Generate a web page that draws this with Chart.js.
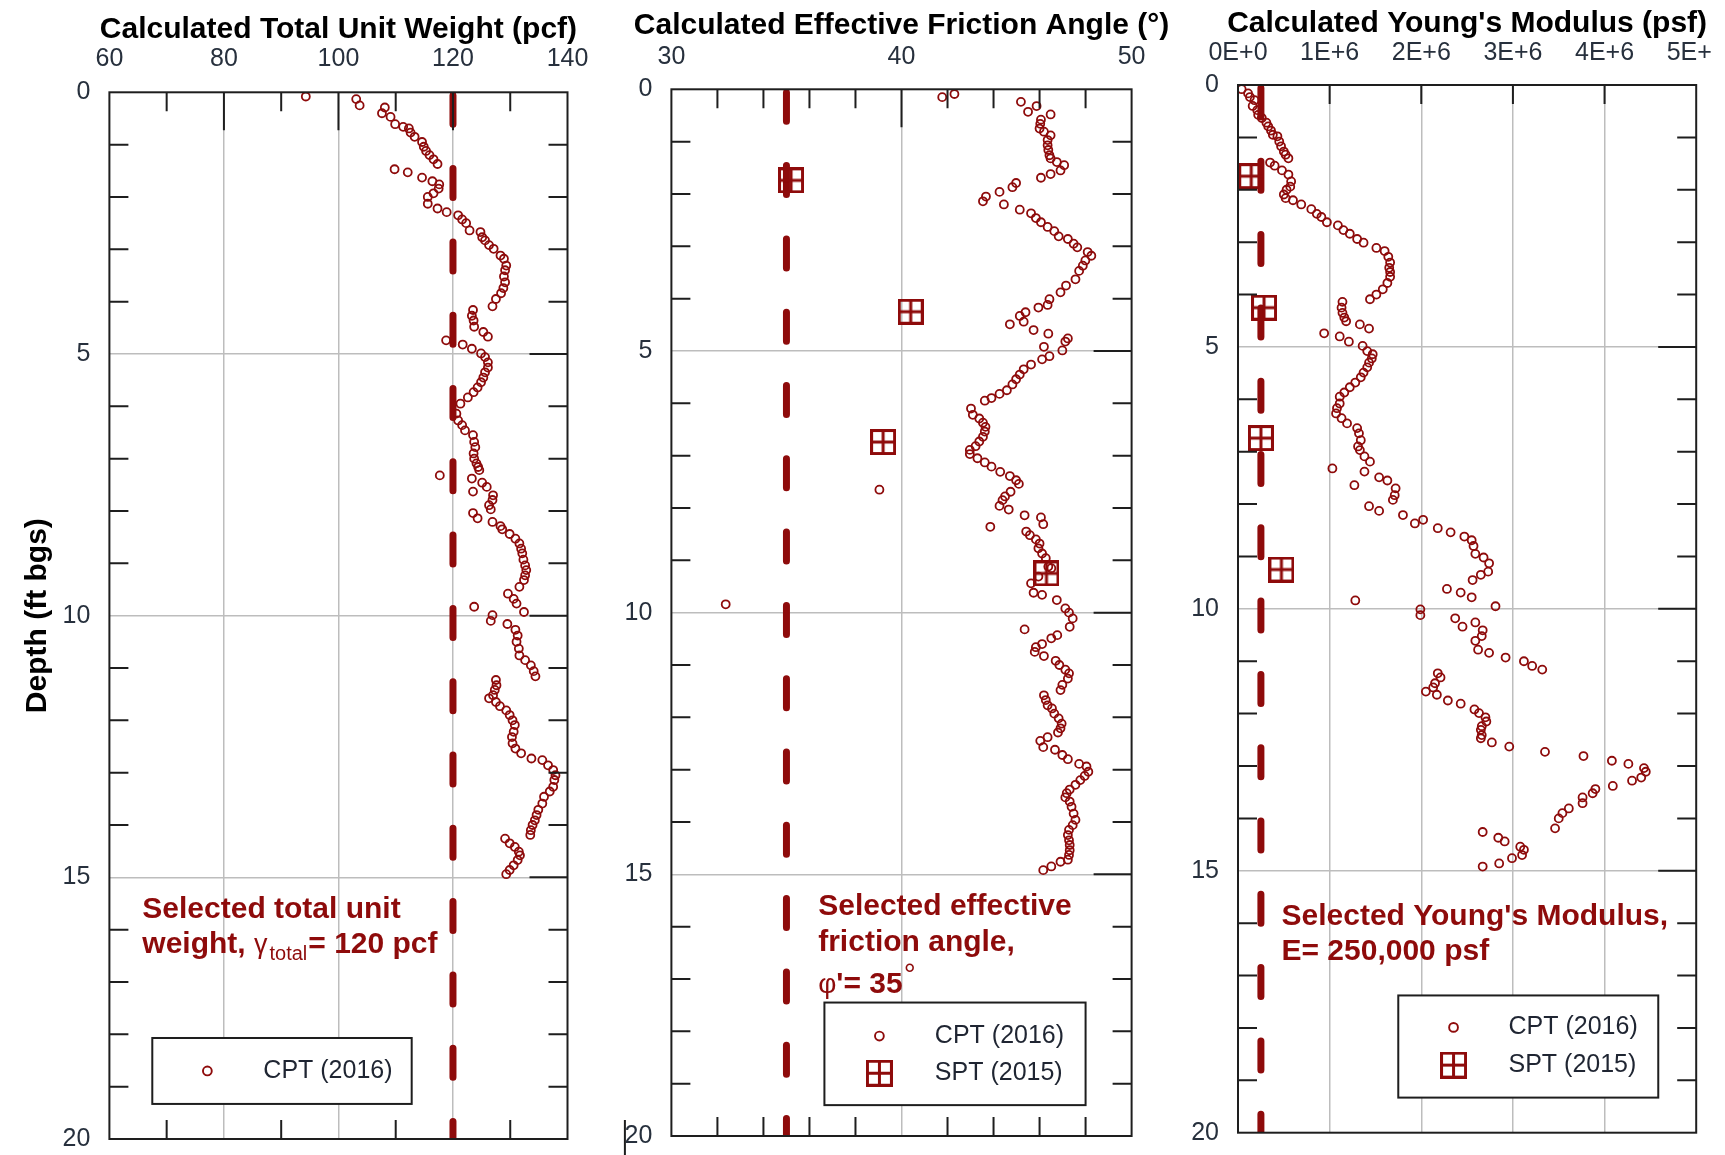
<!DOCTYPE html>
<html>
<head>
<meta charset="utf-8">
<title>CPT / SPT soil parameters</title>
<script src="https://cdn.jsdelivr.net/npm/chart.js@4.4.1/dist/chart.umd.min.js"></script>
<style>
  html, body { margin: 0; padding: 0; background: #fff; }
  #figure { position: relative; width: 1725px; height: 1155px; overflow: hidden; background: #fff; }
  .panel { position: absolute; top: 0; height: 1155px; }
  .panel canvas { display: block; }
</style>
</head>
<body>
<div id="figure">
  <div class="panel" style="left:0;width:600px"><canvas id="unitWeightChart" width="600" height="1155"></canvas></div>
  <div class="panel" style="left:600px;width:600px"><canvas id="frictionChart" width="600" height="1155"></canvas></div>
  <div class="panel" style="left:1180px;width:533px;overflow:hidden"><canvas id="modulusChart" width="580" height="1155"></canvas></div>
</div>
<script>
// --- Data (depth in ft below ground surface) ---

// CPT (2016) calculated total unit weight, pcf
const unitWeightDepth = [0.08, 0.13, 0.25, 0.29, 0.40, 0.47, 0.61, 0.66, 0.69, 0.77,
  0.85, 0.95, 1.04, 1.12, 1.20, 1.28, 1.37, 1.47, 1.53, 1.63,
  1.70, 1.76, 1.84, 1.93, 2.00, 2.13, 2.22, 2.29, 2.35, 2.43,
  2.50, 2.64, 2.67, 2.77, 2.83, 2.92, 2.99, 3.12, 3.18, 3.31,
  3.40, 3.52, 3.63, 3.74, 3.84, 3.95, 4.09, 4.16, 4.27, 4.36,
  4.48, 4.58, 4.67, 4.74, 4.82, 4.90, 4.99, 5.06, 5.16, 5.26,
  5.35, 5.45, 5.54, 5.64, 5.73, 5.83, 5.95, 6.14, 6.27, 6.36,
  6.46, 6.55, 6.68, 6.78, 6.90, 7.00, 7.09, 7.16, 7.22, 7.32,
  7.38, 7.46, 7.54, 7.63, 7.70, 7.79, 7.89, 7.97, 8.04, 8.14,
  8.21, 8.29, 8.35, 8.44, 8.53, 8.62, 8.72, 8.81, 8.93, 9.04,
  9.13, 9.23, 9.32, 9.45, 9.58, 9.68, 9.77, 9.83, 9.93, 9.99,
  10.10, 10.16, 10.27, 10.38, 10.50, 10.63, 10.76, 10.85, 10.95, 11.06,
  11.16, 11.23, 11.33, 11.42, 11.52, 11.58, 11.65, 11.73, 11.81, 11.90,
  12.00, 12.09, 12.22, 12.32, 12.44, 12.54, 12.63, 12.73, 12.76, 12.86,
  12.95, 13.05, 13.14, 13.27, 13.36, 13.46, 13.59, 13.71, 13.81, 13.91,
  14.00, 14.10, 14.19, 14.26, 14.35, 14.42, 14.51, 14.58, 14.67, 14.77,
  14.86, 14.94];
const unitWeightValue = [94.3, 103.1, 103.7, 108.1, 107.6, 109.1, 109.9, 111.3, 112.3, 112.6,
  113.3, 114.6, 114.9, 115.3, 115.9, 116.6, 117.3, 109.8, 112.1, 114.6,
  116.4, 117.6, 117.5, 116.6, 115.6, 115.6, 117.3, 118.9, 120.9, 121.6,
  122.3, 122.9, 124.8, 125.1, 125.6, 126.3, 127.1, 128.3, 128.9, 129.3,
  129.1, 128.9, 129.1, 128.8, 128.4, 127.5, 126.9, 123.5, 123.3, 123.6,
  123.7, 125.3, 126.1, 118.8, 121.7, 123.3, 124.9, 125.6, 126.1, 126.1,
  125.6, 125.3, 124.9, 124.3, 123.6, 122.6, 121.3, 120.6, 120.9, 121.6,
  122.1, 123.5, 123.7, 123.9, 123.6, 123.7, 124.1, 124.4, 124.6, 117.7,
  123.3, 125.1, 125.9, 123.5, 127.0, 126.9, 126.3, 126.6, 123.5, 124.3,
  126.9, 128.3, 128.6, 129.9, 130.9, 131.6, 131.9, 132.1, 132.3, 132.6,
  132.8, 132.6, 132.4, 131.6, 129.6, 130.6, 131.1, 123.7, 132.4, 126.9,
  126.6, 129.5, 130.9, 131.3, 131.1, 131.5, 131.6, 132.6, 133.6, 134.1,
  134.4, 127.5, 127.6, 127.3, 127.0, 126.3, 127.5, 128.2, 129.3, 129.9,
  130.4, 130.8, 130.6, 130.3, 130.4, 130.9, 131.9, 133.7, 135.6, 136.6,
  137.5, 137.9, 137.7, 137.5, 136.9, 135.9, 135.6, 134.9, 134.6, 134.3,
  133.9, 133.6, 133.5, 129.1, 129.9, 130.8, 131.5, 131.7, 131.3, 130.6,
  129.9, 129.3];

// CPT (2016) calculated effective friction angle, degrees
const frictionDepth = [0.09, 0.15, 0.24, 0.32, 0.43, 0.48, 0.58, 0.66, 0.75, 0.81,
  0.88, 0.97, 1.07, 1.16, 1.26, 1.32, 1.39, 1.45, 1.55, 1.62,
  1.69, 1.79, 1.87, 1.96, 2.05, 2.14, 2.20, 2.30, 2.37, 2.46,
  2.54, 2.63, 2.71, 2.81, 2.86, 2.95, 3.02, 3.11, 3.18, 3.27,
  3.37, 3.47, 3.63, 3.75, 3.88, 4.01, 4.12, 4.17, 4.26, 4.33,
  4.44, 4.49, 4.60, 4.67, 4.76, 4.82, 4.92, 4.99, 5.10, 5.16,
  5.26, 5.35, 5.45, 5.54, 5.64, 5.75, 5.82, 5.90, 5.95, 6.10,
  6.22, 6.29, 6.37, 6.45, 6.54, 6.64, 6.73, 6.82, 6.89, 6.97,
  7.05, 7.13, 7.21, 7.31, 7.39, 7.47, 7.54, 7.65, 7.69, 7.78,
  7.85, 7.96, 8.03, 8.14, 8.18, 8.31, 8.36, 8.45, 8.52, 8.60,
  8.68, 8.77, 8.87, 8.96, 9.12, 9.15, 9.31, 9.44, 9.62, 9.66,
  9.76, 9.84, 9.92, 10.00, 10.11, 10.27, 10.32, 10.43, 10.49, 10.60,
  10.66, 10.75, 10.83, 10.92, 11.00, 11.09, 11.16, 11.26, 11.38, 11.48,
  11.58, 11.67, 11.77, 11.83, 11.93, 12.02, 12.12, 12.21, 12.29, 12.38,
  12.45, 12.57, 12.62, 12.72, 12.80, 12.89, 12.94, 13.04, 13.12, 13.20,
  13.29, 13.38, 13.45, 13.53, 13.61, 13.71, 13.84, 13.96, 14.06, 14.15,
  14.25, 14.35, 14.44, 14.54, 14.63, 14.72, 14.76, 14.85, 14.92];
const frictionValue = [42.30, 41.77, 45.19, 45.87, 45.50, 46.48, 46.06, 46.03, 46.00, 46.19,
  46.48, 46.35, 46.35, 46.38, 46.43, 46.48, 46.75, 47.07, 46.91, 46.48,
  46.06, 44.98, 44.82, 44.26, 43.67, 43.54, 44.45, 45.14, 45.63, 45.84,
  46.06, 46.35, 46.64, 46.83, 47.23, 47.48, 47.64, 48.09, 48.25, 47.99,
  47.88, 47.72, 47.56, 47.15, 46.91, 46.43, 46.35, 45.95, 45.39, 45.14,
  45.31, 44.71, 45.74, 46.38, 47.23, 47.12, 46.19, 46.99, 46.43, 46.11,
  45.63, 45.31, 45.14, 44.98, 44.82, 44.58, 44.26, 43.91, 43.62, 43.02,
  43.10, 43.38, 43.54, 43.65, 43.62, 43.54, 43.38, 43.22, 42.97, 42.97,
  43.30, 43.62, 43.91, 44.29, 44.71, 44.98, 45.10, 39.04, 44.74, 44.50,
  44.39, 44.26, 44.66, 45.35, 46.06, 46.16, 43.86, 45.42, 45.58, 45.84,
  46.00, 45.95, 46.11, 46.27, 46.38, 46.51, 45.95, 45.63, 45.74, 46.11,
  46.75, 32.36, 47.12, 47.28, 47.44, 47.31, 45.35, 46.77, 46.51, 46.11,
  45.84, 45.79, 46.19, 46.70, 46.86, 47.12, 47.28, 47.23, 46.99, 46.91,
  46.19, 46.27, 46.35, 46.54, 46.64, 46.83, 46.96, 46.91, 46.80, 46.35,
  46.03, 46.16, 46.67, 46.99, 47.23, 47.72, 48.04, 48.12, 47.96, 47.77,
  47.56, 47.31, 47.18, 47.12, 47.31, 47.39, 47.48, 47.56, 47.44, 47.28,
  47.23, 47.28, 47.31, 47.31, 47.28, 47.23, 46.91, 46.51, 46.16];

// CPT (2016) calculated Young's modulus, psf
const modulusDepth = [0.08, 0.16, 0.23, 0.29, 0.40, 0.48, 0.57, 0.63, 0.72, 0.79,
  0.87, 0.95, 0.98, 1.08, 1.17, 1.27, 1.33, 1.40, 1.48, 1.54,
  1.63, 1.71, 1.84, 1.94, 2.00, 2.09, 2.16, 2.20, 2.28, 2.37,
  2.46, 2.52, 2.62, 2.68, 2.77, 2.84, 2.94, 3.01, 3.11, 3.17,
  3.28, 3.39, 3.49, 3.57, 3.66, 3.78, 3.90, 4.00, 4.09, 4.14,
  4.25, 4.35, 4.44, 4.51, 4.57, 4.65, 4.74, 4.80, 4.90, 4.98,
  5.08, 5.14, 5.22, 5.30, 5.39, 5.49, 5.58, 5.68, 5.77, 5.87,
  5.95, 6.08, 6.17, 6.27, 6.36, 6.46, 6.55, 6.65, 6.78, 6.90,
  6.97, 7.09, 7.19, 7.32, 7.38, 7.49, 7.55, 7.64, 7.70, 7.83,
  7.92, 8.04, 8.13, 8.21, 8.30, 8.37, 8.46, 8.54, 8.62, 8.69,
  8.80, 8.95, 9.02, 9.13, 9.29, 9.35, 9.45, 9.62, 9.69, 9.78,
  9.84, 9.95, 10.01, 10.12, 10.18, 10.26, 10.34, 10.41, 10.52, 10.61,
  10.78, 10.84, 10.93, 11.00, 11.09, 11.16, 11.23, 11.31, 11.42, 11.50,
  11.58, 11.64, 11.75, 11.81, 11.92, 11.99, 12.07, 12.15, 12.24, 12.31,
  12.41, 12.47, 12.55, 12.63, 12.73, 12.81, 12.90, 12.96, 13.04, 13.11,
  13.22, 13.28, 13.38, 13.44, 13.52, 13.60, 13.71, 13.81, 13.90, 14.00,
  14.19, 14.26, 14.37, 14.44, 14.54, 14.60, 14.70, 14.76, 14.86, 14.92];
const modulusValue = [40000, 110000, 130000, 180000, 160000, 210000, 220000, 260000, 310000, 330000,
  360000, 380000, 430000, 450000, 470000, 500000, 520000, 550000, 350000, 400000,
  480000, 550000, 580000, 570000, 530000, 500000, 520000, 600000, 690000, 800000,
  860000, 910000, 970000, 1090000, 1150000, 1220000, 1300000, 1370000, 1510000, 1600000,
  1640000, 1660000, 1650000, 1660000, 1660000, 1630000, 1580000, 1510000, 1440000, 1140000,
  1130000, 1140000, 1160000, 1180000, 1330000, 1430000, 940000, 1110000, 1210000, 1360000,
  1410000, 1470000, 1460000, 1430000, 1410000, 1370000, 1340000, 1280000, 1220000, 1160000,
  1110000, 1110000, 1080000, 1070000, 1130000, 1190000, 1300000, 1320000, 1340000, 1310000,
  1330000, 1380000, 1440000, 1030000, 1380000, 1540000, 1630000, 1270000, 1720000, 1710000,
  1690000, 1430000, 1540000, 1800000, 2020000, 1930000, 2180000, 2320000, 2470000, 2550000,
  2570000, 2590000, 2680000, 2740000, 2730000, 2650000, 2560000, 2280000, 2430000, 2550000,
  1280000, 2810000, 1990000, 1990000, 2370000, 2590000, 2450000, 2670000, 2660000, 2590000,
  2620000, 2740000, 2920000, 3120000, 3210000, 3320000, 2180000, 2210000, 2150000, 2130000,
  2050000, 2170000, 2290000, 2430000, 2580000, 2630000, 2700000, 2710000, 2660000, 2650000,
  2660000, 2650000, 2770000, 2960000, 3350000, 3770000, 4080000, 4260000, 4430000, 4450000,
  4400000, 4300000, 4090000, 3900000, 3870000, 3760000, 3760000, 3610000, 3540000, 3500000,
  3460000, 2670000, 2840000, 2910000, 3080000, 3120000, 3100000, 2990000, 2850000, 2670000];

// SPT (2015) derived values
const sptDepth = [1.74, 4.25, 6.74, 9.25];
const sptFriction = [35.2, 40.4, 39.2, 46.3];
const sptModulus = [144000, 284000, 250000, 474000];

// Selected design values (dashed lines)
const selectedUnitWeight = 120;
const selectedFriction = 35;
const selectedModulus = 250000;
const depthRange = [0, 20];

// Axis tick labels for the modulus panel
const modulusTickLabels = ['0E+0', '1E+6', '2E+6', '3E+6', '4E+6', '5E+6'];

// --- Styling ---
const FONT = "'Liberation Sans', Arial, Helvetica, sans-serif";
const RED = '#8e0b0b';
const INK = '#1e1e1e';
const GRID = '#bdbdbd';
const LABEL = '#27303d';
const MINOR_TICK = 19;
const MAJOR_TICK = 38;
const BOLD = `bold 30px ${FONT}`;
const NO_COLOR = 'rgba(0,0,0,0)';

Chart.defaults.font.family = FONT;

// depth tick marks drawn inside the frame
const depthMinorTicks = [1, 2, 3, 4, 6, 7, 8, 9, 11, 12, 13, 14, 16, 17, 18, 19];
const depthMajorTicks = [5, 10, 15];

// Square-with-cross symbol used for the SPT points
function makeSptIcon(size) {
  const c = document.createElement('canvas');
  c.width = size;
  c.height = size;
  const g = c.getContext('2d');
  const lw = 3;
  g.strokeStyle = RED;
  g.lineWidth = lw;
  g.strokeRect(lw / 2, lw / 2, size - lw, size - lw);
  g.beginPath();
  g.moveTo(size / 2, 0);
  g.lineTo(size / 2, size);
  g.moveTo(0, size / 2);
  g.lineTo(size, size / 2);
  g.stroke();
  return c;
}
const sptIcon = makeSptIcon(26);
const sptLegendIcon = makeSptIcon(27);

function toPoints(values, depths) {
  return depths.map((d, i) => ({ x: values[i], y: d }));
}

// Frame, inward ticks, panel title, note and legend box
function makeDecor(spec) {
  return {
    id: 'panelDecor',
    afterDatasetsDraw(chart) {
      const { ctx, chartArea: area } = chart;
      const xs = chart.scales.x;
      const ys = chart.scales.y;
      ctx.save();

      ctx.strokeStyle = INK;
      ctx.lineWidth = 2;
      ctx.beginPath();
      spec.ticks.top.forEach(v => {
        const px = xs.getPixelForValue(v);
        ctx.moveTo(px, area.top);
        ctx.lineTo(px, area.top + MINOR_TICK);
      });
      spec.ticks.topLong.forEach(v => {
        const px = xs.getPixelForValue(v);
        ctx.moveTo(px, area.top);
        ctx.lineTo(px, area.top + MAJOR_TICK);
      });
      spec.ticks.bottom.forEach(v => {
        const px = xs.getPixelForValue(v);
        ctx.moveTo(px, area.bottom);
        ctx.lineTo(px, area.bottom - MINOR_TICK);
      });
      depthMinorTicks.forEach(v => {
        const py = ys.getPixelForValue(v);
        ctx.moveTo(area.left, py);
        ctx.lineTo(area.left + MINOR_TICK, py);
        ctx.moveTo(area.right, py);
        ctx.lineTo(area.right - MINOR_TICK, py);
      });
      depthMajorTicks.forEach(v => {
        const py = ys.getPixelForValue(v);
        ctx.moveTo(area.right, py);
        ctx.lineTo(area.right - MAJOR_TICK, py);
      });
      // stray rule left of the bottom depth label (present in the source figure)
      if (spec.strayRule) {
        const sx = area.left - spec.strayRule;
        ctx.moveTo(sx, area.bottom - 16);
        ctx.lineTo(sx, chart.height);
      }
      ctx.stroke();
      ctx.strokeRect(area.left, area.top, area.right - area.left, area.bottom - area.top);

      // panel title, centred over the plot
      ctx.fillStyle = '#000';
      ctx.font = BOLD;
      ctx.textAlign = 'center';
      ctx.textBaseline = 'alphabetic';
      ctx.fillText(spec.title, (area.left + area.right) / 2, spec.titleBaseline);

      // selected value note
      ctx.fillStyle = RED;
      ctx.textAlign = 'left';
      const noteX = xs.getPixelForValue(spec.note.x);
      spec.note.lines.forEach(line => {
        let cx = noteX;
        const by = ys.getPixelForValue(line.depth);
        line.parts.forEach(p => {
          ctx.font = p.font || BOLD;
          ctx.fillText(p.text, cx, by + (p.dy || 0));
          cx += ctx.measureText(p.text).width + (p.gap || 0);
        });
      });

      // legend box
      const lg = spec.legend;
      const x0 = xs.getPixelForValue(lg.left);
      const x1 = xs.getPixelForValue(lg.right);
      const y0 = ys.getPixelForValue(lg.top);
      const y1 = ys.getPixelForValue(lg.bottom);
      ctx.fillStyle = '#fff';
      ctx.fillRect(x0, y0, x1 - x0, y1 - y0);
      ctx.strokeStyle = INK;
      ctx.lineWidth = 2;
      ctx.strokeRect(x0, y0, x1 - x0, y1 - y0);
      const mx = xs.getPixelForValue(lg.markerX);
      const tx = xs.getPixelForValue(lg.textX);
      lg.rows.forEach(row => {
        const ry = ys.getPixelForValue(row.depth);
        if (row.marker === 'circle') {
          ctx.beginPath();
          ctx.arc(mx, ry, 4.4, 0, Math.PI * 2);
          ctx.strokeStyle = RED;
          ctx.lineWidth = 1.9;
          ctx.stroke();
        } else {
          ctx.drawImage(sptLegendIcon, mx - sptLegendIcon.width / 2, ry - sptLegendIcon.height / 2);
        }
        ctx.fillStyle = '#1f2532';
        ctx.font = `25px ${FONT}`;
        ctx.textBaseline = 'middle';
        ctx.fillText(row.text, tx, ry);
        ctx.textBaseline = 'alphabetic';
      });

      ctx.restore();
    }
  };
}

function gridColor(min, max) {
  return c => (c.tick && (c.tick.value === min || c.tick.value === max)) ? NO_COLOR : GRID;
}

function buildPanel(canvasId, spec) {
  const datasets = [{
    label: 'CPT (2016)',
    data: toPoints(spec.cptValue, spec.cptDepth),
    pointStyle: 'circle',
    pointRadius: 4,
    pointHoverRadius: 4,
    pointBorderWidth: 1.8,
    pointBorderColor: RED,
    pointBackgroundColor: NO_COLOR,
    order: 1
  }];
  if (spec.sptValue) {
    datasets.push({
      label: 'SPT (2015)',
      data: toPoints(spec.sptValue, sptDepth),
      pointStyle: sptIcon,
      pointRadius: 13,
      pointHoverRadius: 13,
      order: 2
    });
  }
  datasets.push({
    type: 'line',
    label: 'Selected',
    data: [{ x: spec.selected, y: depthRange[0] }, { x: spec.selected, y: depthRange[1] }],
    borderColor: RED,
    borderWidth: 7,
    borderDash: [29, 44.3],
    borderDashOffset: -3,
    borderCapStyle: 'round',
    pointRadius: 0,
    fill: false,
    clip: 0,
    order: 3
  });

  // label offsets come from an invisible tick mark, so tick padding stays 0
  // and does not eat into the plot area
  return new Chart(document.getElementById(canvasId), {
    type: 'scatter',
    data: { datasets },
    options: {
      responsive: false,
      animation: false,
      devicePixelRatio: 1,
      events: [],
      layout: { padding: { left: 0, top: 0, right: spec.padRight, bottom: spec.padBottom } },
      plugins: { legend: { display: false }, tooltip: { enabled: false } },
      scales: {
        x: {
          type: 'linear',
          position: 'top',
          min: spec.xMin,
          max: spec.xMax,
          ticks: {
            stepSize: spec.xStep,
            padding: 0,
            color: LABEL,
            font: { size: 25 },
            maxRotation: 0,
            autoSkip: false,
            callback: spec.xFormat || (v => String(v))
          },
          grid: {
            drawTicks: true,
            tickLength: spec.xTickPad,
            tickColor: NO_COLOR,
            lineWidth: 1.5,
            color: gridColor(spec.xMin, spec.xMax)
          },
          border: { display: false },
          afterFit: s => { s.height = spec.top; }
        },
        y: {
          type: 'linear',
          reverse: true,
          min: depthRange[0],
          max: depthRange[1],
          ticks: { stepSize: 5, padding: 0, color: LABEL, font: { size: 25 } },
          grid: {
            drawTicks: true,
            tickLength: 19,
            tickColor: NO_COLOR,
            lineWidth: 1.5,
            color: gridColor(depthRange[0], depthRange[1])
          },
          border: { display: false },
          title: spec.yTitle
            ? { display: true, text: spec.yTitle, color: '#000', font: { size: 30, weight: 'bold' }, padding: { top: 20, bottom: 0 } }
            : { display: false },
          afterFit: s => { s.width = spec.left; }
        }
      }
    },
    plugins: [makeDecor(spec)]
  });
}

// --- Panel 1: total unit weight ---
buildPanel('unitWeightChart', {
  cptDepth: unitWeightDepth, cptValue: unitWeightValue,
  selected: selectedUnitWeight,
  xMin: 60, xMax: 140, xStep: 20,
  left: 109.4, top: 92.3, padRight: 32.5, padBottom: 16, xTickPad: 18,
  title: 'Calculated Total Unit Weight (pcf)', titleBaseline: 37.5,
  yTitle: 'Depth (ft bgs)',
  ticks: { top: [70, 90, 110, 130], topLong: [80, 100, 120], bottom: [70, 90, 110, 130] },
  note: {
    x: 65.75,
    lines: [
      { depth: 15.78, parts: [{ text: 'Selected total unit' }] },
      { depth: 16.45, parts: [
        { text: 'weight, ' },
        { text: 'γ', font: `27px ${FONT}`, gap: 2 },
        { text: 'total', font: `20px ${FONT}`, dy: 7, gap: 1 },
        { text: '= 120 pcf' }
      ] }
    ]
  },
  legend: {
    left: 67.49, right: 112.79, top: 18.07, bottom: 19.33, markerX: 77.11, textX: 86.88,
    rows: [{ marker: 'circle', depth: 18.70, text: 'CPT (2016)' }]
  }
});

// --- Panel 2: effective friction angle ---
buildPanel('frictionChart', {
  cptDepth: frictionDepth, cptValue: frictionValue, sptValue: sptFriction,
  selected: selectedFriction,
  xMin: 30, xMax: 50, xStep: 10,
  left: 71.4, top: 89.3, padRight: 68.4, padBottom: 19, xTickPad: 17,
  title: 'Calculated Effective Friction Angle (°)', titleBaseline: 34.3,
  strayRule: 46.5,
  ticks: { top: [32, 34, 36, 38, 42, 44, 46, 48], topLong: [40], bottom: [32, 34, 36, 38, 42, 44, 46, 48] },
  note: {
    x: 36.38,
    lines: [
      { depth: 15.78, parts: [{ text: 'Selected effective' }] },
      { depth: 16.46, parts: [{ text: 'friction angle,' }] },
      { depth: 17.26, parts: [
        { text: 'φ', font: `28px ${FONT}` },
        { text: "'= 35", gap: 1 },
        { text: '°', font: `30px ${FONT}`, dy: -9 }
      ] }
    ]
  },
  legend: {
    left: 36.65, right: 48.00, top: 17.45, bottom: 19.41, markerX: 39.04, textX: 41.45,
    rows: [
      { marker: 'circle', depth: 18.09, text: 'CPT (2016)' },
      { marker: 'spt', depth: 18.80, text: 'SPT (2015)' }
    ]
  }
});

// --- Panel 3: Young's modulus ---
buildPanel('modulusChart', {
  cptDepth: modulusDepth, cptValue: modulusValue, sptValue: sptModulus,
  selected: selectedModulus,
  xMin: 0, xMax: 5000000, xStep: 1000000,
  xFormat: (v, i) => modulusTickLabels[i],
  left: 58, top: 85, padRight: 63.8, padBottom: 22.3, xTickPad: 17.3,
  title: "Calculated Young's Modulus (psf)", titleBaseline: 31.7,
  ticks: { top: [1000000, 2000000, 3000000, 4000000], topLong: [], bottom: [] },
  note: {
    x: 474700,
    lines: [
      { depth: 16.03, parts: [{ text: "Selected Young's Modulus," }] },
      { depth: 16.70, parts: [{ text: 'E= 250,000 psf' }] }
    ]
  },
  legend: {
    left: 1749000, right: 4586000, top: 17.38, bottom: 19.33, markerX: 2352000, textX: 2952000,
    rows: [
      { marker: 'circle', depth: 17.99, text: 'CPT (2016)' },
      { marker: 'spt', depth: 18.71, text: 'SPT (2015)' }
    ]
  }
});
</script>
</body>
</html>
